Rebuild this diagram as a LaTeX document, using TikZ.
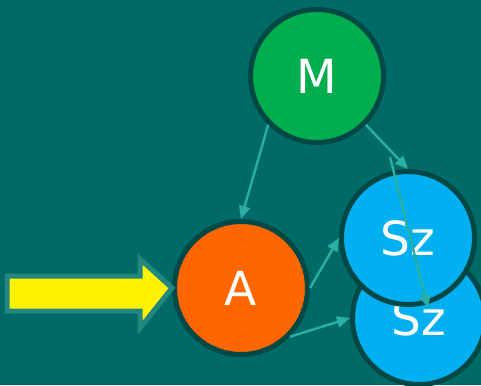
\documentclass[tikz,border=0pt]{standalone}
\usepackage{fontspec}
\setmainfont{DejaVu Sans}
\usepackage{xcolor}
\usetikzlibrary{arrows.meta}
\definecolor{bgteal}{HTML}{006B66}
\definecolor{rimteal}{HTML}{004845}
\definecolor{linkteal}{HTML}{2AAFA6}
\definecolor{boxteal}{HTML}{23877F}
\definecolor{mgreen}{HTML}{00AE4E}
\definecolor{aorange}{HTML}{FF6600}
\definecolor{szblue}{HTML}{00B0F0}

\begin{document}
\begin{tikzpicture}[x=1pt, y=-1pt,
  every node/.style={font=\fontsize{47}{47}\selectfont, text=white},
  ball/.style={circle, draw=rimteal, line width=5pt, minimum size=133pt, inner sep=0pt},
  link/.style={draw=linkteal, line width=2.4pt, -{Triangle[length=13pt,width=11pt]}}]
% background
\fill[bgteal] (0,0) rectangle (481,385);
\useasboundingbox (0,0) rectangle (481,385);
% Circles
\node[ball, fill=mgreen] (M) at (317,76) {M};
\node[ball, fill=aorange] (A) at (241,288) {A};
\node[ball, fill=szblue] (Sz2) at (419,318) {Sz};
\node[ball, fill=szblue] (Sz1) at (408,238) {Sz};
\coordinate (cross1) at (390,157);
\coordinate (cross2) at (428,308);
% Input arrow
\draw[boxteal, line width=5pt, fill=yellow, miter limit=20]
  (7,276) -- (140,276) -- (140,259) -- (A.west) -- (140,328) -- (140,311) -- (7,311) -- cycle;
% Links
\draw[link] (M.south west) -- (A.north);
\draw[link] (M.south east) -- (Sz1.north);
\draw[link] (A.east) -- (Sz1.west);
\draw[link] (A.south east) -- (Sz2.west);
\draw[link] (cross1) -- (cross2);
\end{tikzpicture}
\end{document}
